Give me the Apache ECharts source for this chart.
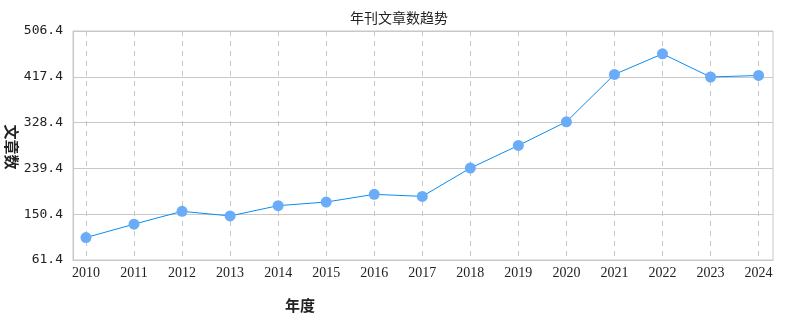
<!DOCTYPE html>
<html><head><meta charset="utf-8">
<script src="https://cdn.jsdelivr.net/npm/echarts@6/dist/echarts.min.js"></script>
<style>html,body{margin:0;padding:0;background:#fff}#c{width:798px;height:330px}</style>
</head><body><div id="c"></div>
<script>
const years = [2010,2011,2012,2013,2014,2015,2016,2017,2018,2019,2020,2021,2022,2023,2024];
const counts = [105,131,156,147,167,174,189,185,240,284,330,422,462,417,420];
const yTicks = [61.4,150.4,239.4,328.4,417.4,506.4];

const chart = echarts.init(document.getElementById('c'));
chart.setOption({
  animation:false,
  title:[
    {text:'年刊文章数趋势', left:'center', top:6, textStyle:{fontFamily:'Noto Sans CJK SC', fontSize:14, fontWeight:'normal', color:'#222'}},
    {text:'年度', left:280, top:293, textStyle:{fontFamily:'Noto Sans CJK SC', fontSize:15, fontWeight:'bold', color:'#222'}}
  ],
  graphic:[{
    type:'text', x:12, y:147, rotation:-Math.PI/2,
    style:{text:'文章数', align:'center', verticalAlign:'middle', fontFamily:'Noto Sans CJK SC', fontSize:15, fontWeight:'bold', fill:'#222'}
  }],
  grid:{left:73, right:25, top:31, bottom:70, show:true, borderColor:'#c8c8c8', borderWidth:1, containLabel:false, outerBoundsMode:'none'},
  xAxis:{
    type:'value', min:2009.73, max:2024.3,
    axisLine:{show:true, lineStyle:{color:'#c8c8c8'}},
    axisTick:{show:false, customValues:years},
    axisLabel:{customValues:years, formatter:v=>String(v), fontFamily:'Liberation Serif', fontSize:14, color:'#222', margin:6},
    splitLine:{show:true, lineStyle:{color:'#c8c8c8', type:[5,5]}}
  },
  yAxis:{
    type:'value', min:yTicks[0], max:yTicks[yTicks.length-1], interval:89,
    axisLine:{show:true, lineStyle:{color:'#c8c8c8'}},
    axisTick:{show:false},
    axisLabel:{formatter:v=>v.toFixed(1), fontFamily:'DejaVu Sans Mono', fontSize:13, color:'#222', margin:10},
    splitLine:{show:true, lineStyle:{color:'#c8c8c8', type:'solid'}}
  },
  series:[{
    type:'line',
    data: years.map((y,i)=>[y,counts[i]]),
    symbol:'circle', symbolSize:11,
    lineStyle:{color:'#0a8cf0', width:1},
    itemStyle:{color:'#6aacf8'},
    z:3
  }]
});
</script></body></html>
